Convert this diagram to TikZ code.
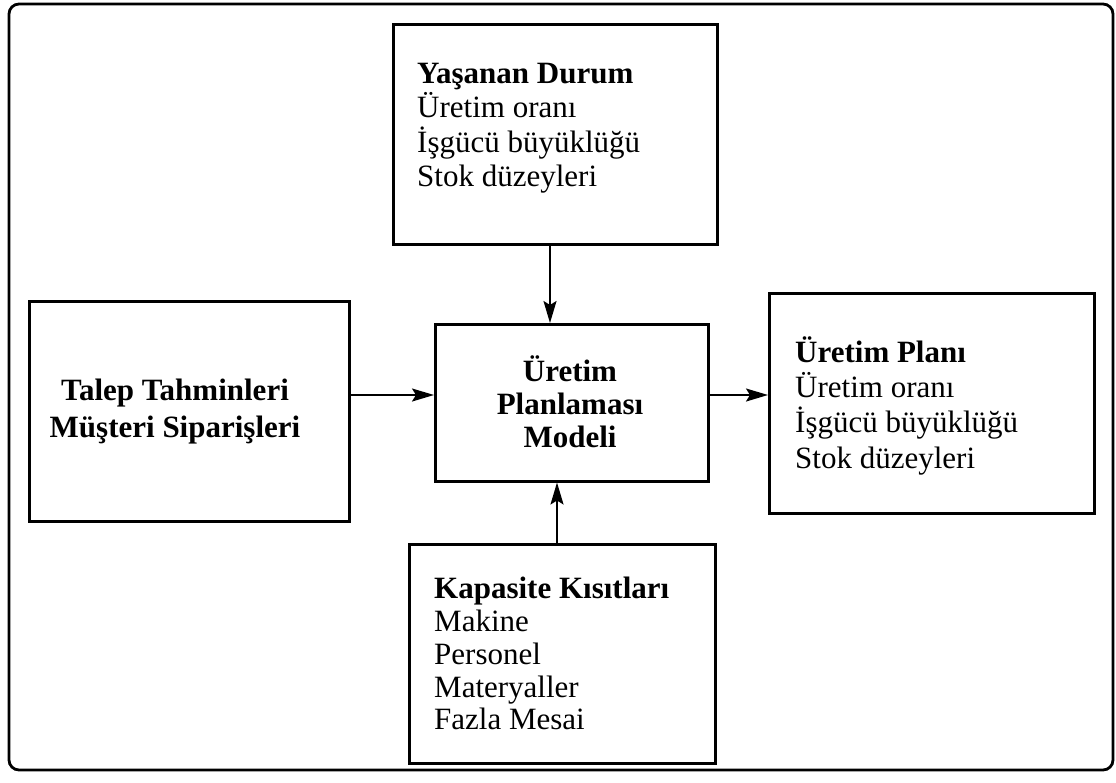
\documentclass[tikz,border=0pt]{standalone}
\usepackage{fontspec}
\setmainfont{Liberation Serif}
\usetikzlibrary{arrows.meta}
\begin{document}
\begin{tikzpicture}[x=1pt,y=-1pt,
  box/.style={draw, line width=2.5pt, anchor=north west, inner sep=0pt, minimum width=#1},
  box/.default=300,
  txt/.style={anchor=base west, inner sep=0pt, font=\fontsize{31}{35}\selectfont},
  head/.style={txt, font=\fontsize{31}{35}\selectfont\bfseries},
  ctr/.style={anchor=base, inner sep=0pt, font=\fontsize{31}{35}\selectfont\bfseries},
  arr/.style={line width=1.8pt, -{Stealth[length=22pt, width=13pt, inset=4pt]}}]
\useasboundingbox (0,0) rectangle (1116,782);

% outer frame
\draw[line width=2.8pt, rounded corners=10pt] (9,4) rectangle (1113,770);

% blocks
\node[box=324, minimum height=220] (durum) at (392,23) {};
\node[box=320, minimum height=220] (talep) at (28,300) {};
\node[box=273, minimum height=157] (model) at (434,323) {};
\node[box=325, minimum height=220] (plan) at (768,292) {};
\node[box=306, minimum height=219] (kapasite) at (408,543) {};

% texts of the blocks
\node[head] (durum1) at (417,83) {Yaşanan Durum};
\node[txt]  (durum2) at (417,117) {Üretim oranı};
\node[txt]  (durum3) at (417,152) {İşgücü büyüklüğü};
\node[txt]  (durum4) at (417,186) {Stok düzeyleri};

\node[ctr] (talep1) at (175,400) {Talep Tahminleri};
\node[ctr] (talep2) at (175,437) {Müşteri Siparişleri};

\node[ctr] (model1) at (570,381) {Üretim};
\node[ctr] (model2) at (570,414) {Planlaması};
\node[ctr] (model3) at (570,447) {Modeli};

\node[head] (plan1) at (795,362) {Üretim Planı};
\node[txt]  (plan2) at (795,397) {Üretim oranı};
\node[txt]  (plan3) at (795,432) {İşgücü büyüklüğü};
\node[txt]  (plan4) at (795,468) {Stok düzeyleri};

\node[head] (kap1) at (434,598) {Kapasite Kısıtları};
\node[txt]  (kap2) at (434,631) {Makine};
\node[txt]  (kap3) at (434,664) {Personel};
\node[txt]  (kap4) at (434,697) {Materyaller};
\node[txt]  (kap5) at (434,729) {Fazla Mesai};

% guide coordinates for the connectors
\coordinate (yrow) at (0,395);
\coordinate (xtop) at (550,0);
\coordinate (xbot) at (557,0);

% connectors
\draw[arr] (talep.east |- yrow) -- (model.west |- yrow);
\draw[arr] (model.east |- yrow) -- (plan.west |- yrow);
\draw[arr] (durum.south -| xtop) -- (model.north -| xtop);
\draw[arr] (kapasite.north -| xbot) -- (model.south -| xbot);
\end{tikzpicture}
\end{document}
